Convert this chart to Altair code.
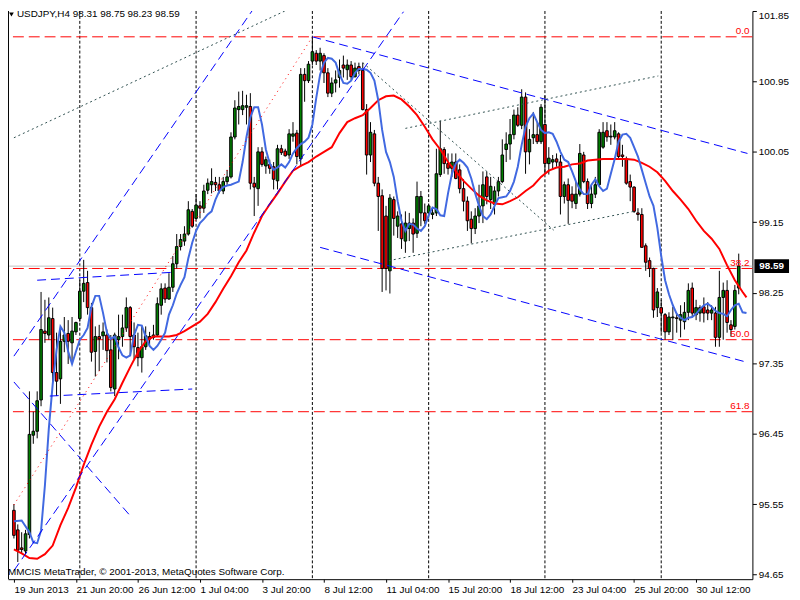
import altair as alt
import pandas as pd

# ---------------- data ----------------
header_text = "USDJPY,H4  98.31 98.75 98.23 98.59"
copyright_text = "MMCIS MetaTrader, \u00a9 2001-2013, MetaQuotes Software Corp."

x_tick_index = [0, 16, 32, 48, 64, 80, 96, 112, 128, 144, 160, 176]
x_tick_labels = ["19 Jun 2013", "21 Jun 20:00", "26 Jun 12:00", "1 Jul 04:00", "3 Jul 20:00",
                 "8 Jul 12:00", "11 Jul 04:00", "15 Jul 20:00", "18 Jul 12:00", "23 Jul 04:00",
                 "25 Jul 20:00", "30 Jul 12:00"]
y_ticks = [94.65, 95.10, 95.55, 96.00, 96.45, 96.90, 97.35, 97.80, 98.25, 98.70,
           99.15, 99.60, 100.05, 100.50, 100.95, 101.40, 101.85]

opens = [
    95.47, 95.22, 94.99, 94.95, 95.16, 96.43, 96.48, 96.88, 97.76, 97.71,
    97.92, 97.23, 97.15, 97.63, 97.73, 97.61, 97.75, 97.92, 98.27, 98.38,
    98.06, 97.50, 97.69, 97.70, 97.71, 97.52, 97.02, 97.65, 97.69, 97.80,
    98.06, 97.71, 97.55, 97.42, 97.56, 97.69, 97.68, 97.71, 98.09, 98.31,
    98.17, 98.32, 98.62, 98.84, 98.91, 99.00, 99.29, 99.20, 99.36, 99.33,
    99.56, 99.63, 99.66, 99.63, 99.55, 99.67, 99.73, 100.24, 100.59, 100.59,
    100.62, 100.63, 99.65, 99.58, 100.05, 99.87, 99.89, 99.86, 99.68, 100.09,
    100.06, 100.01, 100.25, 100.29, 99.96, 101.04, 100.96, 101.21, 101.31, 101.21,
    101.28, 101.06, 100.80, 100.93, 101.00, 101.16, 101.10, 101.16, 101.01, 101.14,
    101.09, 100.59, 100.01, 100.28, 99.65, 99.49, 99.23, 98.53, 99.44, 99.10,
    99.13, 98.91, 99.07, 99.14, 99.01, 99.27, 99.27, 99.27, 99.25, 99.27,
    99.76, 100.08, 99.90, 99.84, 99.92, 99.82, 99.58, 99.42, 99.19, 99.07,
    99.23, 99.36, 99.73, 99.44, 99.38, 99.55, 99.67, 100.08, 100.15, 100.27,
    100.52, 100.39, 100.75, 100.05, 100.23, 100.27, 100.18, 100.40, 99.90, 99.92,
    99.96, 99.92, 99.48, 99.63, 99.51, 99.39, 99.51, 100.01, 99.67, 99.39,
    99.51, 99.63, 100.11, 100.32, 100.24, 100.24, 100.28, 100.01, 99.96, 99.67,
    99.60, 99.27, 99.25, 98.85, 98.66, 98.56, 98.06, 98.06, 97.97, 97.75,
    97.93, 97.93, 97.90, 97.88, 98.00, 98.31, 97.97, 97.99, 98.07, 98.03,
    97.99, 97.99, 97.68, 98.19, 98.28, 97.84, 97.82, 98.31]
highs = [
    95.55, 95.29, 95.19, 95.22, 96.99, 96.73, 96.99, 98.26, 98.16, 98.19,
    98.06, 97.74, 97.78, 97.94, 97.90, 97.94, 97.88, 98.41, 98.67, 98.53,
    98.12, 97.82, 97.84, 97.87, 97.78, 97.71, 97.74, 97.97, 97.97, 98.19,
    98.08, 97.87, 97.74, 97.82, 97.82, 97.75, 97.84, 98.19, 98.37, 98.37,
    98.50, 98.72, 99.00, 99.00, 99.10, 99.42, 99.32, 99.51, 99.42, 99.63,
    99.71, 99.84, 99.73, 99.73, 99.73, 99.82, 100.30, 100.71, 100.82, 100.83,
    100.78, 100.80, 99.73, 100.11, 100.11, 99.99, 99.95, 99.92, 100.14, 100.14,
    100.09, 100.34, 100.43, 100.33, 101.12, 101.12, 101.21, 101.52, 101.35, 101.38,
    101.31, 101.12, 101.00, 101.09, 101.23, 101.28, 101.23, 101.21, 101.19, 101.19,
    101.19, 100.66, 100.43, 100.33, 99.73, 99.57, 99.36, 99.51, 99.48, 99.29,
    99.25, 99.29, 99.27, 99.20, 99.67, 99.55, 99.39, 99.39, 99.32, 100.09,
    100.45, 100.11, 100.03, 100.03, 100.03, 99.89, 99.70, 99.48, 99.29, 99.33,
    99.63, 99.80, 99.80, 99.73, 99.61, 99.73, 100.21, 100.30, 100.47, 100.59,
    100.62, 100.85, 100.81, 100.34, 100.56, 100.43, 100.66, 100.77, 100.11, 100.01,
    100.03, 100.01, 99.67, 99.71, 99.61, 99.67, 100.15, 100.05, 99.71, 99.63,
    99.73, 100.34, 100.43, 100.43, 100.40, 100.43, 100.30, 100.14, 99.99, 99.76,
    99.61, 99.33, 99.33, 98.88, 98.70, 98.57, 98.31, 98.16, 97.99, 98.00,
    98.07, 97.99, 98.09, 98.13, 98.37, 98.38, 98.16, 98.09, 98.19, 98.13,
    98.09, 98.07, 98.53, 98.38, 98.41, 97.90, 98.35, 98.75]
lows = [
    95.11, 94.81, 94.92, 94.91, 95.11, 96.32, 96.39, 96.80, 97.61, 97.65,
    97.11, 96.93, 96.83, 97.49, 97.34, 97.34, 97.71, 97.88, 98.13, 97.97,
    97.37, 97.18, 97.25, 97.52, 97.36, 96.99, 96.93, 97.40, 97.56, 97.75,
    97.44, 97.40, 97.31, 97.23, 97.52, 97.56, 97.65, 97.69, 97.97, 98.12,
    98.16, 98.26, 98.56, 98.79, 98.85, 98.98, 99.08, 99.19, 99.20, 99.27,
    99.51, 99.52, 99.55, 99.52, 99.51, 99.63, 99.71, 100.21, 100.40, 100.52,
    100.40, 99.57, 99.23, 99.36, 99.86, 99.77, 99.77, 99.57, 99.57, 100.01,
    99.99, 99.96, 100.18, 99.89, 99.86, 100.69, 100.93, 101.16, 101.16, 101.09,
    100.93, 100.75, 100.75, 100.81, 100.87, 101.00, 100.97, 100.97, 101.00, 101.04,
    100.58, 99.76, 99.92, 99.61, 99.04, 98.26, 98.28, 98.24, 98.98, 98.95,
    98.81, 98.76, 98.91, 98.76, 98.95, 99.10, 99.13, 99.20, 99.19, 99.23,
    99.73, 99.77, 99.76, 99.73, 99.70, 99.52, 99.29, 99.04, 98.88, 99.00,
    99.14, 99.14, 99.38, 99.32, 99.25, 99.48, 99.65, 99.92, 99.95, 100.21,
    100.37, 100.34, 99.77, 99.89, 100.15, 100.15, 100.15, 99.77, 99.76, 99.82,
    99.86, 99.25, 99.39, 99.13, 99.33, 99.32, 99.48, 99.65, 99.32, 99.33,
    99.46, 99.61, 100.09, 100.18, 100.14, 100.21, 99.96, 99.86, 99.63, 99.42,
    99.27, 99.17, 98.83, 98.53, 98.45, 97.93, 97.94, 97.74, 97.65, 97.71,
    97.65, 97.74, 97.68, 97.78, 97.90, 97.94, 97.90, 97.88, 97.87, 97.90,
    97.90, 97.56, 97.56, 97.65, 97.74, 97.69, 97.78, 98.23]
closes = [
    95.15, 94.96, 94.97, 95.17, 96.44, 96.48, 96.87, 97.78, 97.73, 97.93,
    97.23, 97.12, 97.63, 97.71, 97.63, 97.76, 97.87, 98.27, 98.37, 98.06,
    97.49, 97.69, 97.66, 97.75, 97.51, 97.04, 97.71, 97.69, 97.80, 98.06,
    97.69, 97.56, 97.42, 97.56, 97.70, 97.66, 97.71, 98.11, 98.30, 98.17,
    98.32, 98.62, 98.84, 98.93, 99.00, 99.31, 99.10, 99.37, 99.33, 99.55,
    99.65, 99.67, 99.63, 99.55, 99.67, 99.73, 100.24, 100.61, 100.63, 100.64,
    100.64, 99.65, 99.60, 100.05, 99.89, 99.95, 99.84, 99.70, 100.09, 100.04,
    100.00, 100.28, 100.28, 99.99, 101.04, 100.96, 101.17, 101.33, 101.21, 101.31,
    101.06, 100.80, 100.93, 100.97, 101.09, 101.12, 101.16, 101.01, 101.12, 101.09,
    100.59, 100.01, 100.30, 99.65, 99.48, 98.56, 98.56, 99.46, 99.20, 99.23,
    98.94, 99.14, 99.14, 99.00, 99.48, 99.48, 99.17, 99.36, 99.27, 99.77,
    100.09, 99.90, 99.84, 99.92, 99.71, 99.58, 99.42, 99.17, 99.07, 99.23,
    99.36, 99.63, 99.48, 99.61, 99.55, 99.67, 100.01, 100.15, 100.27, 100.52,
    100.39, 100.75, 100.05, 100.21, 100.27, 100.18, 100.62, 99.90, 99.97, 99.95,
    99.92, 99.48, 99.63, 99.43, 99.42, 99.51, 100.03, 99.67, 99.39, 99.51,
    99.63, 100.30, 100.30, 100.24, 100.25, 100.32, 99.99, 99.99, 99.65, 99.60,
    99.29, 99.25, 98.83, 98.64, 98.56, 98.03, 98.26, 97.99, 97.75, 97.94,
    97.94, 97.92, 97.97, 98.00, 98.28, 97.99, 98.06, 98.06, 97.99, 97.99,
    98.03, 97.68, 98.19, 98.28, 97.87, 97.78, 98.28, 98.59]

# fast moving average (blue)
blue_idx = [0, 2] + list(range(4, 190))
blue_val = [
    95.33, 95.34,
    95.19, 95.06, 95.05, 95.21, 95.79, 96.51, 97.08, 97.52, 97.82, 97.74,   # 4-13
    97.50, 97.34, 97.50, 97.65, 97.71, 97.80, 98.07, 98.21, 98.21, 97.99,   # 14-23
    97.74, 97.66, 97.69, 97.55, 97.45, 97.42, 97.45, 97.71, 97.84, 97.83,   # 24-33
    97.69, 97.57, 97.52, 97.57, 97.65, 97.74, 97.97, 98.09, 98.24, 98.35,   # 34-43
    98.45, 98.69, 98.89, 99.04, 99.14, 99.19, 99.25, 99.29, 99.44, 99.55,   # 44-53
    99.60, 99.62, 99.63, 99.65, 99.67, 99.92, 100.24, 100.49, 100.62, 100.62,  # 54-63
    100.40, 100.08, 99.90, 99.82, 99.85, 99.89, 99.85, 99.92, 100.03, 100.10,  # 64-73
    100.15, 100.18, 100.23, 100.40, 100.74, 101.04, 101.19, 101.25, 101.24, 101.19,  # 74-83
    101.04, 100.93, 100.92, 100.96, 101.06, 101.11, 101.11, 101.10, 101.06, 100.96,  # 84-93
    100.71, 100.33, 100.05, 99.92, 99.73, 99.42, 99.17, 99.04, 99.13, 99.12,  # 94-103
    99.07, 99.04, 99.10, 99.24, 99.34, 99.32, 99.24, 99.23, 99.52, 99.77,   # 104-113
    99.90, 99.95, 99.91, 99.85, 99.71, 99.52, 99.36, 99.23, 99.19, 99.25,   # 114-123
    99.36, 99.46, 99.47, 99.48, 99.55, 99.67, 99.86, 100.14, 100.37, 100.48,  # 124-133
    100.54, 100.43, 100.33, 100.29, 100.30, 100.28, 100.18, 100.05, 99.95, 99.92,  # 134-143
    99.80, 99.67, 99.57, 99.51, 99.51, 99.63, 99.70, 99.61, 99.55, 99.58,   # 144-153
    99.77, 99.96, 100.18, 100.27, 100.28, 100.23, 100.11, 99.99, 99.82, 99.65,  # 154-163
    99.48, 99.36, 99.08, 98.72, 98.41, 98.23, 98.09, 97.98, 97.93, 97.90,   # 164-173
    97.93, 97.94, 97.98, 98.04, 98.09, 98.11, 98.07, 98.02, 97.99, 97.98,   # 174-183
    97.95, 98.03, 98.09, 98.11, 98.00, 97.99]                               # 184-189

# slow moving average (red)
red_idx = list(range(0, 189, 2)) + [189]
red_val = [
    94.97, 94.92, 94.86, 94.85, 94.91, 95.02, 95.28, 95.50, 95.76, 96.05,   # 0-18
    96.31, 96.54, 96.73, 96.89, 97.10, 97.30, 97.49, 97.63, 97.69, 97.69,   # 20-38
    97.69, 97.71, 97.76, 97.82, 97.88, 97.98, 98.13, 98.30, 98.46, 98.64,   # 40-58
    98.79, 99.02, 99.23, 99.38, 99.52, 99.67, 99.81, 99.87, 99.92, 99.99,   # 60-78
    100.05, 100.11, 100.29, 100.43, 100.48, 100.52, 100.61, 100.71, 100.76, 100.77,  # 80-98
    100.72, 100.63, 100.52, 100.37, 100.21, 100.08, 99.92, 99.80, 99.68, 99.58,  # 100-118
    99.49, 99.43, 99.39, 99.38, 99.42, 99.47, 99.55, 99.62, 99.73, 99.81,   # 120-138
    99.85, 99.86, 99.89, 99.90, 99.94, 99.95, 99.96, 99.96, 99.96, 99.96,   # 140-158
    99.95, 99.91, 99.86, 99.79, 99.68, 99.55, 99.44, 99.32, 99.17, 99.04,   # 160-178
    98.94, 98.81, 98.60, 98.41, 98.26, 98.19]                               # 180-189

week_sep_idx = [17, 47, 77, 107, 137, 167]

fib_levels = [101.52, 98.56, 97.65, 96.73]
fib_labels = ["0.0", "38.2", "50.0", "61.8"]
current_price = [98.59]

# drawn objects: (bar index, price) -> (bar index, price)
seg_x1 = [0, 0, 77, 79, 6, 9.25, 0, 0, 101, 96.75, 90, 0]
seg_y1 = [97.44, 94.70, 101.52, 98.83, 98.41, 96.93, 97.11, 100.23, 100.35, 98.66, 101.19, 95.54]
seg_x2 = [62.25, 100.5, 189.25, 189.25, 40.5, 46, 30, 72.5, 166.25, 160, 139.25, 77]
seg_y2 = [101.91, 101.84, 100.03, 97.36, 98.51, 97.02, 95.40, 101.91, 101.02, 99.29, 99.05, 101.52]
seg_kind = ["blue", "blue", "blue", "blue", "blue", "blue", "blue",
            "gray", "gray", "gray", "gray", "red"]

# ---------------- chart ----------------
W, H = 752, 574
FONT = "Liberation Sans"
xs = alt.Scale(domain=[-0.25, 189.25], nice=False, zero=False)
ys = alt.Scale(domain=[94.59, 101.85], nice=False, zero=False)

bars = pd.DataFrame({"idx": list(range(len(opens))), "open": opens, "high": highs,
                     "low": lows, "close": closes})
blue_df = pd.DataFrame({"idx": blue_idx, "val": blue_val})
red_df = pd.DataFrame({"idx": red_idx, "val": red_val})
sep_df = pd.DataFrame({"idx": week_sep_idx})
fib_df = pd.DataFrame({"price": fib_levels, "label": fib_labels})
cur_df = pd.DataFrame({"price": current_price, "label": [f"{p:.2f}" for p in current_price]})
seg_df = pd.DataFrame({"x1": seg_x1, "y1": seg_y1, "x2": seg_x2, "y2": seg_y2, "kind": seg_kind})
one = pd.DataFrame({"k": [0]})

label_expr = "[" + ",".join("'" + s + "'" for s in x_tick_labels) + "][round(datum.value/16)]"

x_axis = alt.Axis(values=x_tick_index, labelExpr=label_expr, labelAlign="left", labelFont=FONT,
                  labelFontSize=10, labelColor="black", tickColor="black", tickSize=3,
                  domainColor="black", labelPadding=2, grid=False, labelOverlap=False,
                  labelBound=False, labelFlush=False, title=None)
y_axis = alt.Axis(orient="right", values=y_ticks, format=".2f", labelFont=FONT, labelFontSize=10,
                  labelColor="black", tickColor="black", tickSize=4, domainColor="black",
                  labelPadding=2, grid=False, labelOverlap=False, labelBound=False,
                  labelFlush=False, title=None,
                  labelBaseline=alt.condition("datum.value > 101.8", alt.value("top"),
                                              alt.value("middle")))

X = alt.X("idx:Q", scale=xs, axis=x_axis)

seps = alt.Chart(sep_df).mark_rule(color="black", strokeDash=[3, 2], strokeWidth=1).encode(x=X)

fib_rules = alt.Chart(fib_df).mark_rule(color="#FF0000", strokeDash=[11, 5], strokeWidth=1).encode(
    y=alt.Y("price:Q", scale=ys, axis=y_axis))
fib_text = alt.Chart(fib_df).mark_text(align="right", baseline="bottom", dy=-1, color="#FF0000",
                                       font=FONT, fontSize=10).encode(
    x=alt.value(749), y=alt.Y("price:Q", scale=ys), text="label:N")

cur_rule = alt.Chart(cur_df).mark_rule(color="#C0C0C0", strokeWidth=1).encode(
    y=alt.Y("price:Q", scale=ys))

wicks = alt.Chart(bars).mark_rule(color="black", strokeWidth=1).encode(
    x=X, y=alt.Y("low:Q", scale=ys), y2="high:Q")
bodies = alt.Chart(bars).mark_bar(size=2.6, stroke="black", strokeWidth=1).encode(
    x=X, y=alt.Y("open:Q", scale=ys), y2="close:Q",
    color=alt.condition(alt.datum.close >= alt.datum.open, alt.value("#008000"), alt.value("#FF0000")))

red_line = alt.Chart(red_df).mark_line(color="#FF0000", strokeWidth=2, clip=True).encode(
    x=X, y=alt.Y("val:Q", scale=ys))
blue_line = alt.Chart(blue_df).mark_line(color="#4169E1", strokeWidth=2, clip=True).encode(
    x=X, y=alt.Y("val:Q", scale=ys))

blue_segs = alt.Chart(seg_df).transform_filter(alt.datum.kind == "blue").mark_rule(
    color="#0000FF", strokeDash=[9, 5], strokeWidth=1, clip=True).encode(
    x=alt.X("x1:Q", scale=xs), y=alt.Y("y1:Q", scale=ys), x2="x2:Q", y2="y2:Q")
gray_segs = alt.Chart(seg_df).transform_filter(alt.datum.kind == "gray").mark_rule(
    color="#2F4F4F", strokeDash=[2, 3], strokeWidth=1, clip=True).encode(
    x=alt.X("x1:Q", scale=xs), y=alt.Y("y1:Q", scale=ys), x2="x2:Q", y2="y2:Q")
red_segs = alt.Chart(seg_df).transform_filter(alt.datum.kind == "red").mark_rule(
    color="#FF0000", strokeDash=[1, 4], strokeWidth=1, clip=True).encode(
    x=alt.X("x1:Q", scale=xs), y=alt.Y("y1:Q", scale=ys), x2="x2:Q", y2="y2:Q")

left_border = alt.Chart(one).mark_rule(color="black", strokeWidth=1).encode(
    x=alt.value(0.5), y=alt.value(0), y2=alt.value(H))

tri = alt.Chart(one).mark_point(shape="triangle-down", filled=True, color="black", size=22,
                                opacity=1).encode(x=alt.value(3.5), y=alt.value(3.5))
header = alt.Chart(pd.DataFrame({"t": [header_text]})).mark_text(
    align="left", baseline="middle", font=FONT, fontSize=10, color="black").encode(
    x=alt.value(9), y=alt.value(3.5), text="t:N")
copyright = alt.Chart(pd.DataFrame({"t": [copyright_text]})).mark_text(
    align="left", baseline="middle", font=FONT, fontSize=10, color="black").encode(
    x=alt.value(0), y=alt.value(567), text="t:N")

price_box = alt.Chart(cur_df).mark_rect(color="black").encode(
    x=alt.value(754), x2=alt.value(789),
    y=alt.Y("box_top:Q", scale=ys), y2="box_bot:Q").transform_calculate(
    box_top="datum.price + 0.088", box_bot="datum.price - 0.088")
price_text = alt.Chart(cur_df).mark_text(align="center", baseline="middle", font=FONT,
                                         fontSize=10, fontWeight="bold", color="white").encode(
    x=alt.value(771.5), y=alt.Y("price:Q", scale=ys), text="label:N")

chart = alt.layer(
    seps, fib_rules, cur_rule, wicks, bodies, red_line, blue_line,
    blue_segs, gray_segs, red_segs, left_border, fib_text, tri, header, copyright,
    price_box, price_text
).properties(
    width=W, height=H,
    autosize=alt.AutoSizeParams(type="none"),
    padding={"left": 0, "top": 0, "right": 40, "bottom": 18},
    background="white",
).configure_view(stroke=None)

chart.save("out.html", embed_options={"renderer": "svg", "actions": False})
